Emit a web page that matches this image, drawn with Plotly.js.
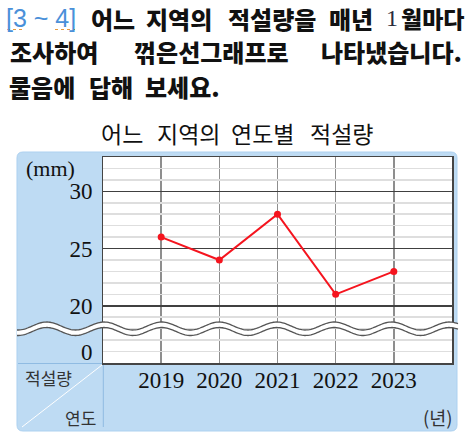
<!DOCTYPE html>
<html><head><meta charset="utf-8">
<script src="https://cdn.plot.ly/plotly-3.0.1.min.js"></script>
<style>html,body{margin:0;padding:0;background:#fff;} #chart{width:473px;height:440px;}</style>
</head><body><div id="chart"></div>
<script>
// ---- data ----
const years = [2019, 2020, 2021, 2022, 2023];
const yearLabels = ['2019', '2020', '2021', '2022', '2023'];
const snowfall = [26, 24, 28, 21, 23];
const yMajorVals = [20, 25, 30];
const yMajorText = ['20', '25', '30'];
const yZeroVals = [16];
const yZeroText = ['0'];

// ---- geometry helpers (pixel -> paper) ----
const L = 103, R = 452, T = 157, B = 363;
const PW = R - L, PH = B - T;
const px = x => (x - L) / PW;
const py = y => (B - y) / PH;
const pt = (x, y) => px(x).toFixed(5) + ',' + py(y).toFixed(5);

const serif = 'Liberation Serif, DejaVu Serif, serif';
const kr = 'Noto Sans CJK KR, Noto Sans, sans-serif';

// panel rounded rect
function roundRect(x0, y0, x1, y1, r) {
  return 'M' + pt(x0 + r, y0) + ' L' + pt(x1 - r, y0) + ' Q' + pt(x1, y0) + ' ' + pt(x1, y0 + r) +
    ' L' + pt(x1, y1 - r) + ' Q' + pt(x1, y1) + ' ' + pt(x1 - r, y1) +
    ' L' + pt(x0 + r, y1) + ' Q' + pt(x0, y1) + ' ' + pt(x0, y1 - r) +
    ' L' + pt(x0, y0 + r) + ' Q' + pt(x0, y0) + ' ' + pt(x0 + r, y0) + ' Z';
}

// break-mark wave (decoration)
const WX0 = 17, WX1 = 458, WPER = 57.5, WPH = 161.7, WAMP = 4, WUP = 326, WLO = 331.5;
function waveY(x, c) { return c - WAMP * Math.cos(2 * Math.PI * (x - WPH) / WPER); }
function wavePts(c, rev) {
  const a = [];
  for (let x = WX0; x <= WX1 + 0.01; x += 1.5) a.push([x, waveY(x, c)]);
  return rev ? a.reverse() : a;
}
function pathFrom(points, start) {
  return points.map((p, i) => (i === 0 && start ? 'M' : 'L') + pt(p[0], p[1])).join(' ');
}
const waveFill = pathFrom(wavePts(WUP, false), true) + ' ' + pathFrom(wavePts(WLO, true), false) + ' Z';
const waveUp = pathFrom(wavePts(WUP, false), true);
const waveLo = pathFrom(wavePts(WLO, false), true);

const shapes = [
  {type: 'path', xref: 'paper', yref: 'paper', layer: 'below', path: roundRect(17, 152, 457, 431, 6),
   fillcolor: '#bedbf3', line: {color: '#add1f0', width: 1}},
  {type: 'rect', xref: 'paper', yref: 'paper', layer: 'below', x0: 0, x1: 1, y0: 0, y1: 1,
   fillcolor: '#ffffff', line: {width: 0}},
  // header cell lines
  {type: 'line', xref: 'paper', yref: 'paper', layer: 'below', x0: px(18), x1: px(103), y0: py(363.5), y1: py(363.5),
   line: {color: '#8fbbe2', width: 1}},
  {type: 'line', xref: 'paper', yref: 'paper', layer: 'below', x0: px(103.3), x1: px(103.3), y0: py(363), y1: py(427),
   line: {color: '#8fbbe2', width: 1}},
  {type: 'line', xref: 'paper', yref: 'paper', layer: 'below', x0: px(102), x1: px(22), y0: py(365), y1: py(427),
   line: {color: '#ffffff', width: 1}},
  // wave
  {type: 'path', xref: 'paper', yref: 'paper', layer: 'above', path: waveFill, fillcolor: '#ffffff', line: {width: 0}},
  {type: 'path', xref: 'paper', yref: 'paper', layer: 'above', path: waveUp, line: {color: '#555555', width: 1.3}},
  {type: 'path', xref: 'paper', yref: 'paper', layer: 'above', path: waveLo, line: {color: '#555555', width: 1.3}},
  // orange dotted underline under [3 ~ 4]
  {type: 'line', xref: 'paper', yref: 'paper', x0: px(7), x1: px(25), y0: py(29.5), y1: py(29.5),
   line: {color: '#e89a3c', width: 1.2, dash: 'dot'}},
  {type: 'line', xref: 'paper', yref: 'paper', x0: px(55), x1: px(75), y0: py(29.5), y1: py(29.5),
   line: {color: '#e89a3c', width: 1.2, dash: 'dot'}}
];

function ann(text, x, y, size, family, color, weight) {
  return {text: text, xref: 'paper', yref: 'paper', x: px(x), y: py(y), xanchor: 'center', yanchor: 'middle',
    showarrow: false, borderpad: 0, font: {size: size, family: family, color: color, weight: weight || 'normal'}};
}
const HS = 24;    // heading font size
const TS = 23;    // chart title size
const HW = 900;   // heading weight

const annotations = [
  // heading line 1
  ann('[3 ~ 4]', 41, 18, 25, 'Liberation Sans, Arial, sans-serif', '#4a90d9'),
  ann('어느', 112.5, 18, HS, kr, '#111', HW),
  ann('지역의', 179, 18, HS, kr, '#111', HW),
  ann('적설량을', 272, 18, HS, kr, '#111', HW),
  ann('매년', 350.5, 18, HS, kr, '#111', HW),
  ann('1', 391.5, 18, 24, serif, '#2a2a3a'),
  ann('월마다', 432.5, 18, 23, kr, '#111', HW),
  // heading line 2
  ann('조사하여', 53.5, 51, HS, kr, '#111', HW),
  ann('꺾은선그래프로', 211, 51, HS, kr, '#111', HW),
  ann('나타냈습니다.', 391.5, 51, HS, kr, '#111', HW),
  // heading line 3
  ann('물음에', 42, 87, HS, kr, '#111', HW),
  ann('답해', 110.5, 87, HS, kr, '#111', HW),
  ann('보세요.', 182.5, 87, HS, kr, '#111', HW),
  // chart title
  ann('어느', 121.7, 133, TS, kr, '#111'),
  ann('지역의', 188.3, 133, TS, kr, '#111'),
  ann('연도별', 262.5, 133, TS, kr, '#111'),
  ann('적설량', 341.7, 133, TS, kr, '#111'),
  // unit labels
  ann('(mm)', 50, 168, 22, serif, '#111'),
  ann('적설량', 48.5, 377, 17, kr, '#333'),
  ann('연도', 80, 417, 17, kr, '#333'),
  ann('(년)', 437.5, 417, 18.5, kr, '#333')
];

const data = [
  {type: 'scatter', mode: 'lines+markers', x: years, y: snowfall, xaxis: 'x', yaxis: 'y',
   line: {color: '#f5141e', width: 2}, marker: {color: '#f5141e', size: 7}, hoverinfo: 'skip', showlegend: false},
  {type: 'scatter', mode: 'markers', x: [], y: [], xaxis: 'x', yaxis: 'y2', showlegend: false, hoverinfo: 'skip'},
  {type: 'scatter', mode: 'markers', x: [], y: [], xaxis: 'x', yaxis: 'y3', showlegend: false, hoverinfo: 'skip'}
];

const yRange = [15, 33];
const tickFont = {family: serif, size: 23, color: '#111'};

const layout = {
  width: 473, height: 440,
  margin: {l: L, r: 473 - R, t: T, b: 440 - B, pad: 0},
  paper_bgcolor: '#ffffff', plot_bgcolor: 'rgba(0,0,0,0)',
  showlegend: false,
  xaxis: {range: [2018, 2024], tickmode: 'array', tickvals: years, ticktext: yearLabels,
    showgrid: true, gridcolor: '#8e8e8e', gridwidth: 1.5, zeroline: false,
    showline: true, mirror: true, linecolor: '#454545', linewidth: 1.5,
    ticks: '', ticklabelstandoff: -4, tickfont: tickFont, fixedrange: true},
  yaxis: {range: yRange, tickmode: 'linear', tick0: 0, dtick: 1, showticklabels: false,
    showgrid: true, gridcolor: '#dedede', gridwidth: 1.6, zeroline: false,
    showline: true, mirror: true, linecolor: '#454545', linewidth: 1.5, ticks: '', fixedrange: true},
  yaxis2: {overlaying: 'y', side: 'left', range: yRange, tickmode: 'array', tickvals: yMajorVals, ticktext: yMajorText,
    showgrid: true, gridcolor: '#404040', gridwidth: 1.5, zeroline: false, showline: false,
    ticks: 'outside', ticklen: 5, tickcolor: 'rgba(0,0,0,0)', tickfont: tickFont, fixedrange: true},
  yaxis3: {overlaying: 'y', side: 'left', range: yRange, tickmode: 'array', tickvals: yZeroVals, ticktext: yZeroText,
    showgrid: false, zeroline: false, showline: false,
    ticks: 'outside', ticklen: 5, tickcolor: 'rgba(0,0,0,0)', tickfont: tickFont, fixedrange: true},
  shapes: shapes,
  annotations: annotations
};

Plotly.newPlot('chart', data, layout, {staticPlot: true, displayModeBar: false});
</script>
</body></html>
